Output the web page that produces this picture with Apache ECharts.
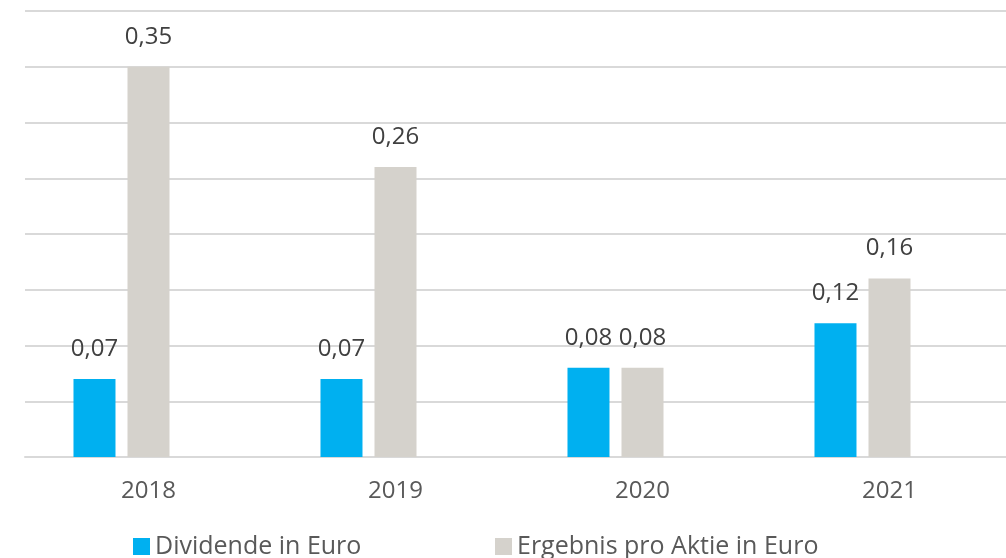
<!DOCTYPE html>
<html><head><meta charset="utf-8">
<script src="https://cdn.jsdelivr.net/npm/echarts@6/dist/echarts.min.js"></script>
<style>html,body{margin:0;padding:0;background:#fff;overflow:hidden}#c{width:1013px;height:558px}</style>
</head><body><div id="c"></div>
<script>
const categories = ['2018', '2019', '2020', '2021'];
const dividende = [0.07, 0.07, 0.08, 0.12];
const ergebnis = [0.35, 0.26, 0.08, 0.16];
const seriesNames = ['Dividende in Euro', 'Ergebnis pro Aktie in Euro'];

const FONT = '"Open Sans", Lato, sans-serif';
const fmt = v => v.toFixed(2).replace('.', ',');
const labelCfg = {
  show: true, position: 'top', distance: 18,
  fontFamily: FONT, fontSize: 24, color: '#404040',
  formatter: p => fmt(p.value)
};
const legendText = {fontFamily: FONT, fontSize: 25, color: '#595959'};
const chart = echarts.init(document.getElementById('c'), null, {renderer: 'canvas'});
chart.setOption({
  animation: false,
  backgroundColor: '#fff',
  grid: {left: 25, top: 11, right: 0, bottom: 101, containLabel: false},
  legend: [
    {data: [seriesNames[0]], top: 529, left: 128, itemWidth: 17, itemHeight: 17, icon: 'rect',
     itemGap: 0, textStyle: legendText},
    {data: [seriesNames[1]], top: 529, left: 490, itemWidth: 17, itemHeight: 17, icon: 'rect',
     itemGap: 0, textStyle: legendText}
  ],
  xAxis: {
    type: 'category', data: categories,
    axisLine: {show: true, lineStyle: {color: '#D9D9D9', width: 2}},
    axisTick: {show: false},
    axisLabel: {fontFamily: FONT, fontSize: 24, color: '#595959', margin: 22}
  },
  yAxis: {
    type: 'value', min: 0, max: 0.4, interval: 0.05,
    axisLabel: {show: false}, axisLine: {show: false}, axisTick: {show: false},
    splitLine: {lineStyle: {color: '#D9D9D9', width: 2}}
  },
  series: [
    {name: seriesNames[0], type: 'bar', data: dividende, barWidth: 42, barGap: '28.6%',
     itemStyle: {color: '#00B0F0'}, label: labelCfg},
    {name: seriesNames[1], type: 'bar', data: ergebnis, barWidth: 42, barGap: '28.6%',
     itemStyle: {color: '#D5D2CC'}, label: labelCfg},
    {name: 'leer', type: 'bar', data: [null, null, null, null], barWidth: 42, barGap: '28.6%'}
  ]
});
</script></body></html>
